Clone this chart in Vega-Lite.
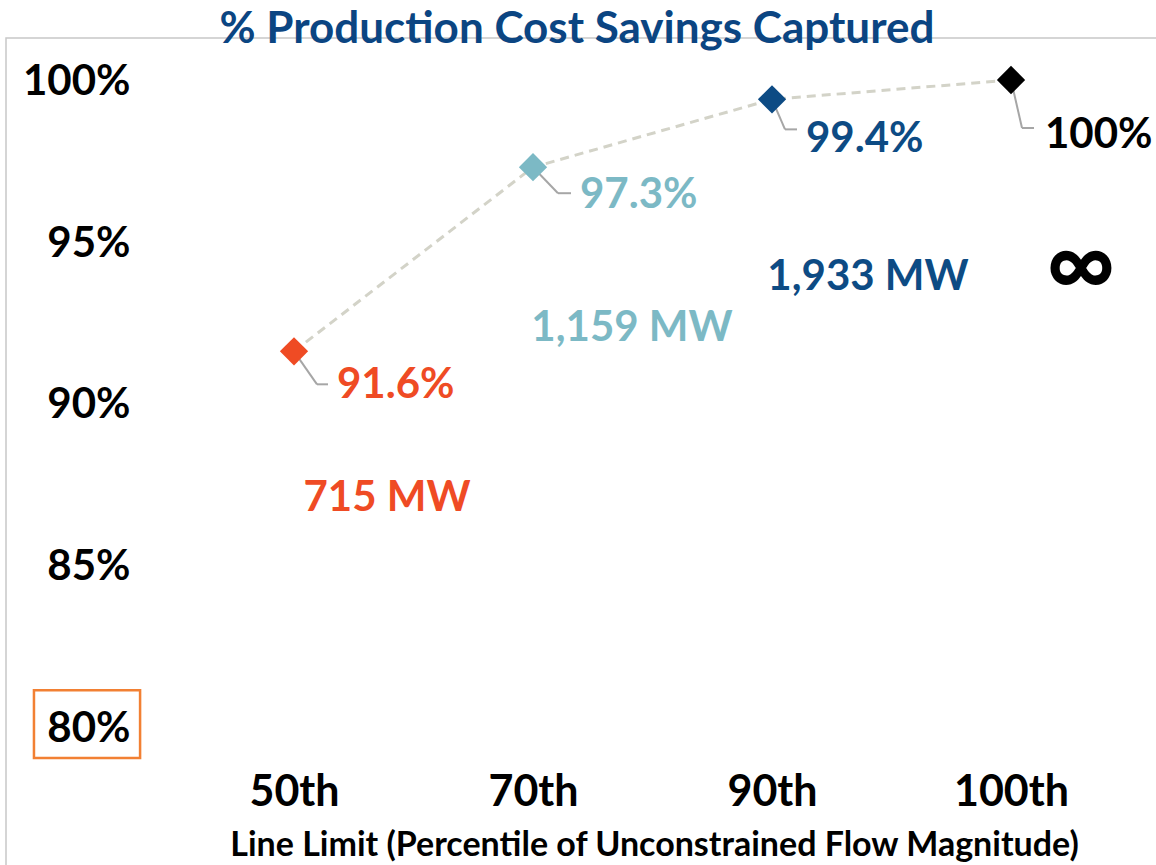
{
  "$schema": "https://vega.github.io/schema/vega-lite/v6.json",
  "autosize": "none",
  "width": 1152,
  "height": 830,
  "padding": {"left": 6, "top": 38, "right": 0, "bottom": 0},
  "background": "white",
  "config": {
    "view": {"stroke": "#c8c8c8", "strokeWidth": 1.5},
    "font": "Lato"
  },
  "title": {
    "text": "% Production Cost Savings Captured",
    "font": "Lato",
    "fontSize": 44,
    "fontWeight": "bold",
    "color": "#0B4582",
    "anchor": "middle",
    "baseline": "alphabetic",
    "offset": -49,
    "dx": -5
  },
  "data": {
    "values": [
      {"limit": "50th", "idx": 0, "pct": 91.6, "label": "91.6%", "mw": "715 MW"},
      {"limit": "70th", "idx": 1, "pct": 97.3, "label": "97.3%", "mw": "1,159 MW"},
      {"limit": "90th", "idx": 2, "pct": 99.4, "label": "99.4%", "mw": "1,933 MW"},
      {"limit": "100th", "idx": 3, "pct": 100, "label": "100%", "mw": "∞"}
    ]
  },
  "encoding": {
    "x": {
      "field": "idx",
      "type": "quantitative",
      "scale": {"domain": [-1.205, 3.615], "nice": false, "zero": false},
      "axis": {
        "values": [0, 1, 2, 3],
        "labelExpr": "['50th','70th','90th','100th'][datum.value]",
        "grid": false,
        "ticks": false,
        "domain": false,
        "offset": -103,
        "labelPadding": 40,
        "labelBaseline": "alphabetic",
        "labelFont": "Lato",
        "labelFontSize": 43,
        "labelFontWeight": "bold",
        "labelColor": "black",
        "title": "Line Limit (Percentile of Unconstrained Flow Magnitude)",
        "titleFont": "Lato",
        "titleFontSize": 34,
        "titleFontWeight": "bold",
        "titleColor": "black",
        "titleX": 648,
        "titleY": 90,
        "titleBaseline": "alphabetic",
        "titleAlign": "center",
        "titleAnchor": null
      }
    },
    "y": {
      "field": "pct",
      "type": "quantitative",
      "scale": {"domain": [75.604, 101.3], "nice": false, "zero": false},
      "axis": {
        "values": [80, 85, 90, 95, 100],
        "labelExpr": "datum.value + '%'",
        "grid": false,
        "ticks": false,
        "domain": false,
        "offset": -124,
        "labelPadding": 0,
        "labelBaseline": "alphabetic",
        "labelOffset": 15,
        "labelFont": "Lato",
        "labelFontSize": 42,
        "labelFontWeight": "bold",
        "labelColor": "black",
        "title": null
      }
    }
  },
  "layer": [
    {
      "data": {"values": [{"pct": 80}, {"pct": 85}, {"pct": 90}, {"pct": 95}, {"pct": 100}]},
      "mark": {"type": "rule", "color": "#d9d9d9", "strokeWidth": 2},
      "encoding": {
        "x": {"datum": -0.5, "type": "quantitative"},
        "x2": {"datum": 3.5}
      }
    },
    {
      "mark": {"type": "rect", "fill": null, "fillOpacity": 0, "stroke": "#F28033", "strokeWidth": 2.5},
      "encoding": {
        "x": {"datum": -1.088, "type": "quantitative"},
        "x2": {"datum": -0.644},
        "y": {"datum": 81.11, "type": "quantitative"},
        "y2": {"datum": 79.01}
      },
      "transform": [{"filter": "datum.idx == 0"}]
    },
    {
      "mark": {"type": "line", "color": "#d3d3c8", "strokeWidth": 3, "strokeDash": [9, 6]}
    },
    {
      "mark": {
        "type": "rule",
        "color": "#a6a6a6",
        "strokeWidth": 2,
        "x2Offset": {"expr": "[23,25,13,11][datum.idx]"},
        "y2Offset": {"expr": "[33,26,30,48][datum.idx]"}
      },
      "encoding": {
        "x2": {"field": "idx"},
        "y2": {"field": "pct"}
      }
    },
    {
      "mark": {
        "type": "rule",
        "color": "#a6a6a6",
        "strokeWidth": 2,
        "xOffset": {"expr": "[23,25,13,11][datum.idx]"},
        "yOffset": {"expr": "[33,26,30,48][datum.idx]"},
        "x2Offset": {"expr": "[34,38,25,23][datum.idx]"},
        "y2Offset": {"expr": "[33,26,30,48][datum.idx]"}
      },
      "encoding": {
        "x2": {"field": "idx"},
        "y2": {"field": "pct"}
      }
    },
    {
      "mark": {"type": "point", "shape": "diamond", "filled": true, "size": 800, "opacity": 1},
      "encoding": {
        "color": {
          "field": "limit",
          "type": "nominal",
          "scale": {"domain": ["50th", "70th", "90th", "100th"], "range": ["#EF4B24", "#7CB9C5", "#0D4B84", "#000000"]},
          "legend": null
        }
      }
    },
    {
      "mark": {
        "type": "text",
        "align": "left",
        "baseline": "alphabetic",
        "font": "Lato",
        "fontSize": 42,
        "fontWeight": "bold",
        "dx": {"expr": "[43,47,34,34][datum.idx]"},
        "dy": {"expr": "[47,41,53,68][datum.idx]"}
      },
      "encoding": {
        "text": {"field": "label"},
        "color": {"field": "limit", "type": "nominal", "legend": null}
      }
    },
    {
      "mark": {
        "type": "text",
        "align": "center",
        "baseline": "alphabetic",
        "font": "Lato",
        "fontWeight": "bold",
        "fontSize": {"expr": "datum.idx == 3 ? 95 : 42"},
        "dx": {"expr": "[93,99,96,70][datum.idx]"},
        "dy": {"expr": "[160,174,191,216][datum.idx]"}
      },
      "encoding": {
        "text": {"field": "mw"},
        "color": {"field": "limit", "type": "nominal", "legend": null}
      }
    }
  ]
}
